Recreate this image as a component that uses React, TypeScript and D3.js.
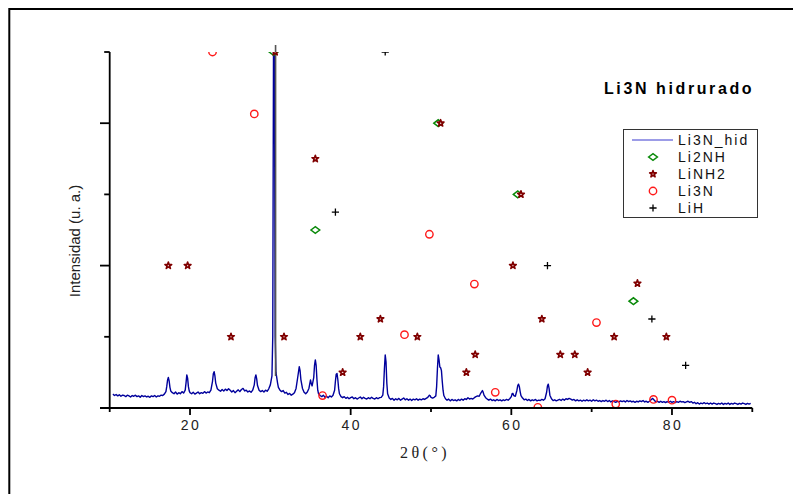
import React from "react";
import * as d3 from "d3";

const W = 793;
const H = 494;

// Axis ticks
const xMajorTicks = [20, 40, 60, 80];
const xMinorTicks = [10, 30, 50, 70, 90];
const yMajorTicks = [0, 40, 80];
const yMinorTicks = [20, 60, 100];

const titleText = "Li3N hidrurado";
const xLabel = "2θ(°)";
const yLabel = "Intensidad (u. a.)";
const legendLabels = ["Li3N_hid", "Li2NH", "LiNH2", "Li3N", "LiH"];

// XRD trace (2θ, intensity)
const trace: [number, number][] = [
  [10.4, 3.9], [10.6, 3.5], [10.8, 3.8], [11.0, 3.4], [11.2, 3.7], [11.4, 3.3], [11.6, 3.6], [11.8, 3.5],
  [12.0, 3.2], [12.2, 3.6], [12.4, 3.4], [12.6, 3.1], [12.8, 3.5], [13.0, 3.3], [13.2, 3.6], [13.4, 3.2],
  [13.6, 3.4], [13.8, 3.0], [14.0, 3.5], [14.2, 3.2], [14.4, 3.4], [14.6, 3.1], [14.8, 3.3], [15.0, 3.0],
  [15.2, 3.4], [15.4, 3.2], [15.6, 3.5], [15.8, 3.1], [16.0, 3.4], [16.2, 3.3], [16.4, 3.6], [16.6, 3.5],
  [16.8, 3.9], [17.0, 4.6], [17.1, 6.0], [17.2, 7.8], [17.3, 8.6], [17.4, 7.6], [17.5, 5.8], [17.6, 4.8],
  [17.8, 4.3], [18.0, 4.0], [18.2, 4.5], [18.4, 3.9], [18.6, 4.3], [18.8, 4.0], [19.0, 4.6], [19.2, 4.2],
  [19.4, 5.0], [19.5, 7.0], [19.6, 9.3], [19.7, 8.4], [19.8, 6.0], [19.9, 4.8], [20.0, 4.3], [20.2, 4.0],
  [20.4, 4.4], [20.6, 3.9], [20.8, 4.2], [21.0, 4.5], [21.2, 4.0], [21.4, 4.3], [21.6, 4.1], [21.8, 4.6],
  [22.0, 4.2], [22.2, 4.5], [22.4, 4.3], [22.6, 5.0], [22.8, 7.5], [22.9, 9.6], [23.0, 10.2], [23.1, 9.0],
  [23.2, 7.0], [23.4, 5.4], [23.6, 5.0], [23.8, 4.7], [24.0, 5.2], [24.2, 4.8], [24.4, 5.3], [24.6, 4.9],
  [24.8, 5.4], [25.0, 5.0], [25.2, 4.5], [25.4, 4.9], [25.6, 4.3], [25.8, 4.7], [26.0, 5.1], [26.2, 4.6],
  [26.4, 5.2], [26.6, 5.5], [26.8, 4.8], [27.0, 5.0], [27.2, 4.5], [27.4, 4.8], [27.6, 4.4], [27.8, 5.0],
  [28.0, 6.5], [28.1, 8.5], [28.2, 9.3], [28.3, 8.2], [28.4, 6.3], [28.6, 5.0], [28.8, 4.6], [29.0, 4.9],
  [29.2, 4.5], [29.4, 5.0], [29.6, 4.7], [29.8, 5.4], [30.0, 6.5], [30.2, 9.0], [30.3, 20], [30.4, 108],
  [30.5, 108], [30.6, 20], [30.7, 10], [30.9, 7.0], [31.0, 5.8], [31.2, 5.0], [31.4, 4.6], [31.6, 4.9],
  [31.8, 4.2], [32.0, 4.4], [32.2, 3.8], [32.4, 4.1], [32.6, 3.6], [32.8, 3.9], [33.0, 4.3], [33.2, 5.5],
  [33.4, 8.5], [33.6, 11.6], [33.7, 10.5], [33.8, 8.0], [34.0, 5.5], [34.2, 4.4], [34.4, 4.0], [34.6, 4.5],
  [34.8, 5.5], [35.0, 7.9], [35.1, 6.8], [35.2, 6.2], [35.4, 8.5], [35.5, 12.0], [35.6, 13.5], [35.7, 12.0],
  [35.8, 8.0], [35.9, 5.0], [36.0, 4.0], [36.2, 3.5], [36.4, 3.2], [36.6, 3.6], [36.8, 3.0], [37.0, 3.3],
  [37.2, 2.9], [37.4, 3.4], [37.6, 3.1], [37.8, 3.6], [38.0, 5.0], [38.1, 7.5], [38.2, 9.5], [38.3, 9.7],
  [38.4, 8.0], [38.5, 5.5], [38.6, 4.0], [38.8, 3.2], [39.0, 2.9], [39.2, 3.2], [39.4, 2.7], [39.6, 3.0],
  [39.8, 2.6], [40.0, 2.9], [40.2, 3.1], [40.4, 2.6], [40.6, 2.9], [40.8, 2.5], [41.0, 2.8], [41.2, 3.1],
  [41.4, 2.6], [41.6, 3.0], [41.8, 2.7], [42.0, 2.5], [42.2, 2.9], [42.4, 2.6], [42.6, 3.0], [42.8, 2.7],
  [43.0, 2.5], [43.2, 2.9], [43.4, 2.6], [43.6, 2.9], [43.8, 3.0], [44.0, 3.6], [44.1, 6.0], [44.2, 11.0],
  [44.3, 14.9], [44.4, 13.0], [44.5, 7.0], [44.6, 4.0], [44.8, 2.8], [45.0, 2.4], [45.2, 2.7], [45.4, 2.2],
  [45.6, 2.6], [45.8, 2.3], [46.0, 2.7], [46.2, 2.2], [46.4, 2.5], [46.6, 2.8], [46.8, 2.3], [47.0, 2.6],
  [47.2, 2.2], [47.4, 2.5], [47.6, 2.1], [47.8, 2.5], [48.0, 2.3], [48.2, 2.6], [48.4, 2.2], [48.6, 2.5],
  [48.8, 2.3], [49.0, 2.6], [49.2, 2.4], [49.4, 2.7], [49.6, 3.0], [49.8, 3.6], [49.9, 3.4], [50.0, 3.0],
  [50.2, 2.8], [50.4, 3.0], [50.6, 3.4], [50.7, 6.0], [50.8, 11.0], [50.9, 14.9], [51.0, 13.5], [51.1, 11.5],
  [51.2, 11.3], [51.3, 10.5], [51.4, 7.5], [51.5, 5.0], [51.6, 3.5], [51.8, 2.6], [52.0, 2.2], [52.2, 2.5],
  [52.4, 2.0], [52.6, 2.4], [52.8, 2.1], [53.0, 2.3], [53.2, 2.0], [53.4, 2.4], [53.6, 2.1], [53.8, 2.5],
  [54.0, 2.2], [54.2, 2.6], [54.4, 2.4], [54.6, 2.9], [54.8, 2.5], [55.0, 2.7], [55.2, 2.5], [55.4, 2.9],
  [55.6, 3.2], [55.8, 3.4], [56.0, 3.3], [56.2, 4.2], [56.4, 4.9], [56.5, 4.4], [56.6, 3.6], [56.8, 2.9],
  [57.0, 2.5], [57.2, 2.2], [57.4, 2.5], [57.6, 2.1], [57.8, 2.3], [58.0, 2.0], [58.2, 2.4], [58.4, 2.1],
  [58.6, 2.3], [58.8, 2.0], [59.0, 2.3], [59.2, 2.1], [59.4, 2.4], [59.6, 2.2], [59.8, 2.6], [60.0, 3.2],
  [60.1, 4.0], [60.2, 4.1], [60.3, 3.5], [60.5, 3.3], [60.7, 5.0], [60.8, 6.3], [60.9, 6.7], [61.0, 6.0],
  [61.1, 4.6], [61.2, 3.5], [61.4, 2.8], [61.6, 2.3], [61.8, 2.5], [62.0, 2.1], [62.2, 2.4], [62.4, 2.0],
  [62.6, 2.3], [62.8, 2.1], [63.0, 2.4], [63.2, 2.0], [63.4, 2.2], [63.6, 2.1], [63.8, 2.4], [64.0, 2.2],
  [64.2, 2.6], [64.4, 4.5], [64.5, 6.2], [64.6, 6.7], [64.7, 5.5], [64.8, 3.6], [65.0, 2.6], [65.2, 2.1],
  [65.4, 2.3], [65.6, 2.0], [65.8, 2.2], [66.0, 2.4], [66.2, 2.1], [66.4, 2.5], [66.6, 2.2], [66.8, 2.6],
  [67.0, 2.4], [67.2, 2.7], [67.4, 2.5], [67.6, 2.2], [67.8, 2.4], [68.0, 2.0], [68.2, 2.3], [68.4, 2.0],
  [68.6, 2.2], [68.8, 1.9], [69.0, 2.2], [69.2, 2.0], [69.4, 2.3], [69.6, 2.0], [69.8, 2.2], [70.0, 1.9],
  [70.2, 2.3], [70.4, 2.0], [70.6, 2.2], [70.8, 1.9], [71.0, 2.1], [71.2, 1.8], [71.4, 2.1], [71.6, 1.9],
  [71.8, 2.2], [72.0, 1.8], [72.2, 2.1], [72.4, 1.7], [72.6, 2.0], [72.8, 1.8], [73.0, 1.6], [73.2, 1.9],
  [73.4, 1.7], [73.6, 2.0], [73.8, 1.8], [74.0, 2.0], [74.2, 1.7], [74.4, 2.1], [74.6, 1.8], [74.8, 2.0],
  [75.0, 1.7], [75.2, 1.9], [75.4, 1.6], [75.6, 1.9], [75.8, 1.7], [76.0, 2.0], [76.2, 1.8], [76.4, 2.1],
  [76.6, 1.7], [76.8, 1.9], [77.0, 1.6], [77.2, 1.9], [77.4, 2.3], [77.6, 2.7], [77.8, 2.2], [78.0, 1.7],
  [78.2, 1.9], [78.4, 1.6], [78.6, 1.9], [78.8, 1.6], [79.0, 1.8], [79.2, 1.5], [79.4, 1.8], [79.6, 1.6],
  [79.8, 1.9], [80.0, 1.6], [80.2, 1.8], [80.4, 1.5], [80.6, 1.8], [80.8, 1.6], [81.0, 1.9], [81.2, 1.7],
  [81.4, 1.8], [81.6, 1.5], [81.8, 1.7], [82.0, 1.9], [82.2, 1.6], [82.4, 1.8], [82.6, 1.4], [82.8, 1.6],
  [83.0, 1.2], [83.2, 1.5], [83.4, 1.1], [83.6, 1.4], [83.8, 1.2], [84.0, 1.5], [84.2, 1.2], [84.4, 1.4],
  [84.6, 1.1], [84.8, 1.4], [85.0, 1.1], [85.2, 1.4], [85.4, 1.2], [85.6, 1.0], [85.8, 1.3], [86.0, 1.1],
  [86.2, 1.4], [86.4, 1.0], [86.6, 1.3], [86.8, 1.1], [87.0, 1.4], [87.2, 1.0], [87.4, 1.3], [87.6, 1.1],
  [87.8, 1.4], [88.0, 1.2], [88.2, 1.0], [88.4, 1.3], [88.6, 1.1], [88.8, 1.4], [89.0, 1.2], [89.2, 1.0],
  [89.4, 1.3], [89.6, 1.1], [89.8, 1.3],
];

// gray stick drawn over the main reflection
const mainStick: [number, number][] = [[30.65, 9], [30.65, 102]];

// Reference patterns (2θ, relative intensity)
const li2nh: [number, number][] = [
  [30.4, 100], [35.6, 50], [50.9, 80], [60.8, 60], [75.2, 30],
];
const linh2: [number, number][] = [
  [17.3, 40], [19.7, 40], [25.1, 20], [30.6, 100], [31.7, 20], [35.6, 70], [39.0, 10], [41.2, 20],
  [43.7, 25], [48.3, 20], [51.2, 80], [54.4, 10], [55.5, 15], [60.2, 40], [61.2, 60], [63.8, 25],
  [66.1, 15], [67.9, 15], [69.5, 10], [72.8, 20], [75.7, 35], [79.3, 20],
];
const li3n: [number, number][] = [
  [22.8, 100], [28.0, 82.6], [36.5, 3.5], [46.7, 20.6], [49.8, 48.8], [55.4, 34.8], [58.0, 4.4],
  [63.3, 0.2], [70.6, 24], [73.0, 1.1], [77.7, 2.4], [80.0, 2.2],
];
const lih: [number, number][] = [
  [38.1, 55], [44.3, 100], [64.5, 40], [77.5, 25], [81.7, 12],
];

const SANS = "'Liberation Sans', Arial, sans-serif";
const SERIF = "'Liberation Serif', 'Times New Roman', serif";

const TRACE_COLOR = "#00009c";
const GREEN = "#0a8a0a";
const DARKRED = "#800000";
const RED = "#ff1a1a";

const diamondPath = "M-4.4,0L0,-3.4L4.4,0L0,3.4Z";
const starPath = d3.symbol().type(d3.symbolStar).size(14)() as string;
const crossPath = "M-3.6,0H3.6M0,-3.6V3.6";

function Marker({ kind, x, y }: { kind: string; x: number; y: number }) {
  const t = `translate(${x},${y})`;
  if (kind === "diamond")
    return <path d={diamondPath} transform={t} fill="none" stroke={GREEN} strokeWidth={1.5} />;
  if (kind === "star")
    return <path d={starPath} transform={t} fill="#f0dede" stroke={DARKRED} strokeWidth={1.6} strokeLinejoin="round" />;
  if (kind === "circle")
    return <circle cx={x} cy={y} r={3.7} fill="none" stroke={RED} strokeWidth={1.4} />;
  return <path d={crossPath} transform={t} fill="none" stroke="#000" strokeWidth={1.3} />;
}

export default function App() {
  const x = d3.scaleLinear().domain([10, 90]).range([109.7, 752.3]);
  const y = d3.scaleLinear().domain([0, 100]).range([408, 52]);
  const line = d3
    .line<[number, number]>()
    .x((d) => x(d[0]))
    .y((d) => y(d[1]));

  const series: { data: [number, number][]; kind: string }[] = [
    { data: li2nh, kind: "diamond" },
    { data: linh2, kind: "star" },
    { data: li3n, kind: "circle" },
    { data: lih, kind: "cross" },
  ];

  const legendX = 623.5;
  const legendY = 129.5;
  const rowH = 17;

  return (
    <svg
      width={W}
      height={H}
      style={{ position: "absolute", left: 0, top: 0, background: "#fff" }}
    >
      <defs>
        <clipPath id="plotClip">
          <rect x={x(10)} y={y(100)} width={x(90) - x(10)} height={y(0) - y(100)} />
        </clipPath>
      </defs>
      <rect x={0} y={0} width={W} height={H} fill="#fff" />
      {/* outer frame */}
      <rect x={9.3} y={9} width={W + 20} height={H + 20} fill="none" stroke="#000" strokeWidth={2} />

      {/* trace */}
      <g clipPath="url(#plotClip)">
        <path d={line(trace) as string} fill="none" stroke={TRACE_COLOR} strokeWidth={1.4} strokeLinejoin="round" />
      </g>
      <path d={line(mainStick) as string} fill="none" stroke="#555" strokeWidth={1.6} />

      {/* markers */}
      <g clipPath="url(#plotClip)">
        {series.map((s) =>
          s.data.map((d, i) => <Marker key={s.kind + i} kind={s.kind} x={x(d[0])} y={y(d[1])} />)
        )}
      </g>

      {/* axes */}
      <g stroke="#000" strokeWidth={1.8} fill="none">
        <line x1={100} x2={x(90)} y1={y(0)} y2={y(0)} />
        <line x1={x(10)} x2={x(10)} y1={y(0)} y2={y(100)} />
        {xMajorTicks.map((t) => (
          <line key={"xM" + t} x1={x(t)} x2={x(t)} y1={y(0)} y2={y(0) + 7} />
        ))}
        {xMinorTicks.map((t) => (
          <line key={"xm" + t} x1={x(t)} x2={x(t)} y1={y(0)} y2={y(0) + 4} />
        ))}
        {yMajorTicks.map((t) => (
          <line key={"yM" + t} x1={x(10) - 9.7} x2={x(10)} y1={y(t)} y2={y(t)} />
        ))}
        {yMinorTicks.map((t) => (
          <line key={"ym" + t} x1={x(10) - 5.5} x2={x(10)} y1={y(t)} y2={y(t)} />
        ))}
      </g>
      {xMajorTicks.map((t) => (
        <text
          key={"xl" + t}
          x={x(t) + 1}
          y={430}
          textAnchor="middle"
          fontFamily={SANS}
          fontSize={14}
          letterSpacing={2.5}
          fill="#222"
        >
          {t}
        </text>
      ))}

      {/* axis labels */}
      <text
        x={425}
        y={458}
        textAnchor="middle"
        fontFamily={SERIF}
        fontSize={16}
        letterSpacing={3.5}
        fill="#222"
      >
        {xLabel}
      </text>
      <text
        transform="translate(80,241) rotate(-90)"
        textAnchor="middle"
        fontFamily={SANS}
        fontSize={15}
        fill="#222"
      >
        {yLabel}
      </text>

      {/* title */}
      <text x={604} y={94} fontFamily={SANS} fontSize={16} fontWeight="bold" letterSpacing={2.6} fill="#000">
        {titleText}
      </text>

      {/* legend */}
      <rect x={legendX} y={legendY} width={134} height={88} fill="#fff" stroke="#333" strokeWidth={1} />
      <line x1={632} x2={673} y1={140} y2={140} stroke="#3a3ad0" strokeWidth={1.2} />
      {series.map((s, i) => (
        <Marker key={"lg" + i} kind={s.kind} x={653} y={140 + rowH * (i + 1)} />
      ))}
      {legendLabels.map((l, i) => (
        <text
          key={"lt" + i}
          x={678}
          y={145 + rowH * i}
          fontFamily={SANS}
          fontSize={14}
          letterSpacing={2}
          fill="#111"
        >
          {l}
        </text>
      ))}
    </svg>
  );
}
